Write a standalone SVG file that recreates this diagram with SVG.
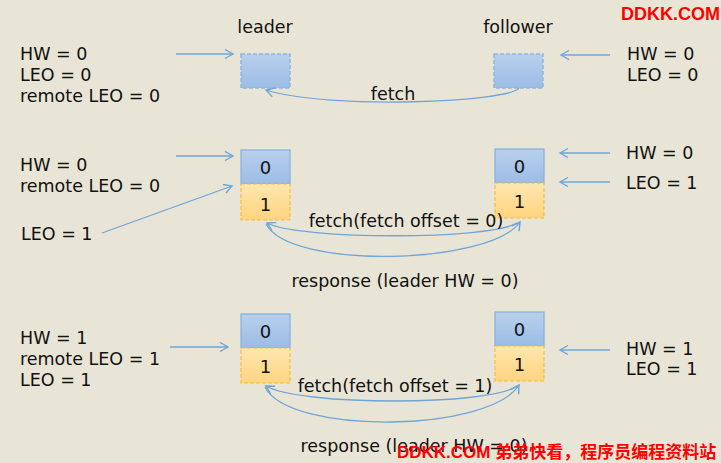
<svg xmlns="http://www.w3.org/2000/svg" width="721" height="463" viewBox="0 0 721 463">
<defs>
<linearGradient id="gb" x1="0" y1="0" x2="0" y2="1"><stop offset="0" stop-color="#B9D0EC"/><stop offset="1" stop-color="#9BBCE6"/></linearGradient>
<linearGradient id="go" x1="0" y1="0" x2="0" y2="1"><stop offset="0" stop-color="#FFE6B0"/><stop offset="1" stop-color="#FFD47E"/></linearGradient>
<marker id="ah" markerWidth="12" markerHeight="12" refX="9" refY="5" orient="auto" markerUnits="userSpaceOnUse"><path d="M1,0.5 L9,5 L1,9.5" fill="none" stroke="#6FA4D8" stroke-width="1.4"/></marker>
<style>
.t{font-family:"DejaVu Sans",Verdana,sans-serif;font-size:17.5px;fill:#111}
.c{text-anchor:middle}
.n{font-size:18px}
.bb{fill:url(#gb);stroke:#85B0DE;stroke-width:1.2}
.bd{fill:url(#gb);stroke:#8FB6E2;stroke-width:1.5;stroke-dasharray:4 2}
.bo{fill:url(#go);stroke:#F5BE3C;stroke-width:1.2;stroke-dasharray:4 2}
.a{fill:none;stroke:#6FA4D8;stroke-width:1.3;marker-end:url(#ah)}
.w{font-family:"Liberation Sans","Noto Sans CJK SC",sans-serif;font-weight:bold;font-size:17px;fill:#FF0000}
</style>
</defs>
<rect width="721" height="463" fill="#E9E5D6"/>

<g id="labels-left">
<text class="t" x="20" y="60">HW = 0</text>
<text class="t" x="20" y="81">LEO = 0</text>
<text class="t" x="20" y="102">remote LEO = 0</text>
<text class="t" x="20" y="171">HW = 0</text>
<text class="t" x="20" y="192">remote LEO = 0</text>
<text class="t" x="21" y="240">LEO = 1</text>
<text class="t" x="20" y="344">HW = 1</text>
<text class="t" x="20" y="365">remote LEO = 1</text>
<text class="t" x="20" y="386">LEO = 1</text>
</g>
<g id="labels-right">
<text class="t" x="627" y="60">HW = 0</text>
<text class="t" x="627" y="81">LEO = 0</text>
<text class="t" x="626" y="159">HW = 0</text>
<text class="t" x="626" y="189">LEO = 1</text>
<text class="t" x="626" y="355">HW = 1</text>
<text class="t" x="626" y="375">LEO = 1</text>
</g>

<g id="leader1">
<text class="t c" x="265" y="33">leader</text>
<rect class="bd" x="241" y="54" width="49" height="34"/>
</g>
<g id="follower1">
<text class="t c" x="518" y="33">follower</text>
<rect class="bd" x="494" y="54" width="49" height="34"/>
</g>

<g id="leader2">
<rect class="bb" x="241" y="150" width="49" height="34"/>
<rect class="bo" x="241" y="184" width="49" height="36"/>
<text class="t c n" x="265.5" y="174">0</text>
<text class="t c n" x="265.5" y="211">1</text>
</g>
<g id="follower2">
<rect class="bb" x="495" y="149" width="49" height="34"/>
<rect class="bo" x="495" y="183" width="49" height="35"/>
<text class="t c n" x="519.5" y="173">0</text>
<text class="t c n" x="519.5" y="208">1</text>
</g>

<g id="leader3">
<rect class="bb" x="241" y="314" width="49" height="34"/>
<rect class="bo" x="241" y="348" width="49" height="35"/>
<text class="t c n" x="265.5" y="338">0</text>
<text class="t c n" x="265.5" y="373">1</text>
</g>
<g id="follower3">
<rect class="bb" x="495" y="312" width="49" height="34"/>
<rect class="bo" x="495" y="346" width="49" height="35"/>
<text class="t c n" x="519.5" y="336">0</text>
<text class="t c n" x="519.5" y="371">1</text>
</g>

<g id="connectors">
<line class="a" x1="176" y1="54" x2="233" y2="54"/>
<line class="a" x1="610" y1="55" x2="561" y2="55"/>
<path class="a" d="M519,88 C510,102 330,110 266,90"/>
<line class="a" x1="176" y1="156" x2="233" y2="156"/>
<line class="a" x1="102" y1="233" x2="232" y2="186"/>
<line class="a" x1="610" y1="153" x2="560" y2="153"/>
<line class="a" x1="610" y1="182" x2="560" y2="182"/>
<path class="a" d="M517,223 C490,240 300,240 267,223"/>
<path class="a" d="M266,224 C290,270 490,265 520,222"/>
<line class="a" x1="170" y1="347" x2="228" y2="347"/>
<line class="a" x1="610" y1="350" x2="560" y2="350"/>
<path class="a" d="M517,386 C490,406 300,406 266,386"/>
<path class="a" d="M265,387 C290,436 490,432 519,385"/>
</g>

<g id="connector-labels">
<text class="t c" x="393" y="100">fetch</text>
<text class="t c" x="406" y="227">fetch(fetch offset = 0)</text>
<text class="t c" x="405" y="287">response (leader HW = 0)</text>
<text class="t c" x="395" y="392">fetch(fetch offset = 1)</text>
<text class="t c" x="414" y="452">response (leader HW = 0)</text>
</g>

<g id="watermarks">
<text class="w" x="621" y="20" style="font-size:18px">DDKK.COM</text>
<text class="w" x="397" y="458">DDKK.COM 弟弟快看，程序员编程资料站</text>
</g>
</svg>
